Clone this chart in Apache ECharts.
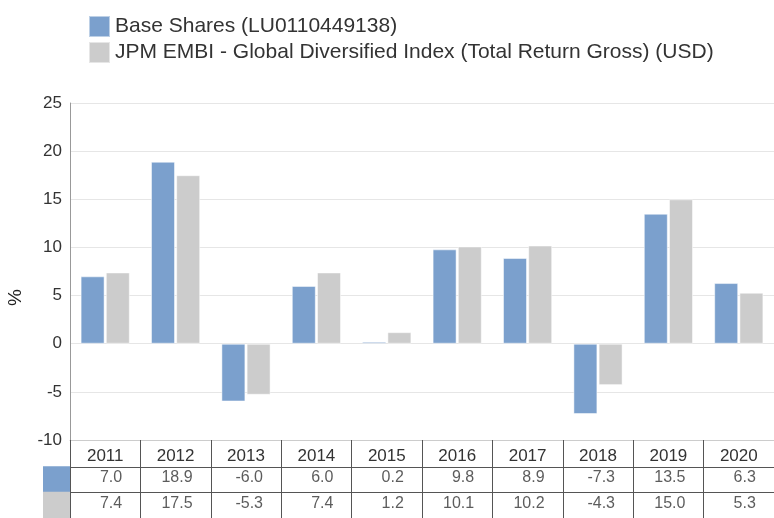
<!DOCTYPE html>
<html>
<head>
<meta charset="utf-8">
<script src="https://cdn.jsdelivr.net/npm/echarts@6/dist/echarts.min.js"></script>
<style>
  html, body { margin: 0; padding: 0; background: #fff; }
  #chart { width: 774px; height: 518px; }
</style>
</head>
<body>
<div id="chart"></div>
<script>
const years = ['2011', '2012', '2013', '2014', '2015', '2016', '2017', '2018', '2019', '2020'];
const baseShares = [7.0, 18.9, -6.0, 6.0, 0.2, 9.8, 8.9, -7.3, 13.5, 6.3];
const benchmark = [7.4, 17.5, -5.3, 7.4, 1.2, 10.1, 10.2, -4.3, 15.0, 5.3];
const seriesNames = ['Base Shares (LU0110449138)', 'JPM EMBI - Global Diversified Index (Total Return Gross) (USD)'];
const seriesColors = ['#7ba0cd', '#cccccc'];
const yTicks = { min: -10, max: 25, interval: 5 };

const font = 'Liberation Sans, Arial, sans-serif';

// table cells: [column, row, value]
function tableCells(values, row) {
    return values.map((v, i) => [i, row, v]);
}

const chart = echarts.init(document.getElementById('chart'));

const option = {
    animation: false,
    textStyle: { fontFamily: font },
    legend: {
        orient: 'vertical',
        left: 83,
        top: 10,
        itemWidth: 21,
        itemHeight: 21,
        itemGap: 3,
        icon: 'rect',
        data: seriesNames,
        textStyle: { fontSize: 21, color: '#333', fontFamily: font }
    },
    grid: [
        { left: 70, right: 0, top: 103, bottom: 78 },
        { left: 70, right: 0, top: 467, height: 56 }
    ],
    xAxis: [
        {
            type: 'category',
            gridIndex: 0,
            data: years,
            axisLine: { onZero: false, lineStyle: { color: '#cccccc' } },
            axisTick: { show: true, interval: 0, length: 27, lineStyle: { color: '#555' } },
            axisLabel: { fontSize: 17, color: '#333', margin: 8, interval: 0 },
            splitLine: { show: false }
        },
        {
            type: 'category',
            gridIndex: 1,
            data: years,
            axisLine: { show: false },
            axisTick: { show: false },
            axisLabel: { show: false },
            splitLine: { show: true, interval: 0, lineStyle: { color: '#555' } }
        }
    ],
    yAxis: [
        {
            type: 'value',
            gridIndex: 0,
            min: yTicks.min,
            max: yTicks.max,
            interval: yTicks.interval,
            axisLine: { show: true, lineStyle: { color: '#999' } },
            axisTick: { show: false },
            axisLabel: { fontSize: 17, color: '#333', margin: 8 },
            splitLine: { lineStyle: { color: '#e6e6e6' } }
        },
        {
            type: 'category',
            gridIndex: 1,
            inverse: true,
            data: ['s0', 's1'],
            axisLine: { show: true, lineStyle: { color: '#555' } },
            axisTick: { show: false },
            splitLine: { show: true, interval: 0, lineStyle: { color: '#555' } },
            axisLabel: {
                margin: 0,
                interval: 0,
                formatter: v => (v === 's0' ? '{a|}' : '{b|}'),
                rich: {
                    a: { backgroundColor: seriesColors[0], width: 27, height: 27 },
                    b: { backgroundColor: seriesColors[1], width: 27, height: 27 }
                }
            }
        }
    ],
    graphic: [
        {
            type: 'text',
            left: 6,
            top: 289,
            rotation: Math.PI / 2,
            style: { text: '%', fontSize: 19, fill: '#222', fontFamily: font }
        }
    ],
    series: [
        {
            name: seriesNames[0],
            type: 'bar',
            xAxisIndex: 0,
            yAxisIndex: 0,
            data: baseShares,
            barWidth: 24,
            barGap: '5%',
            itemStyle: { color: seriesColors[0], borderColor: 'rgba(255,255,255,0.5)', borderWidth: 1 }
        },
        {
            name: seriesNames[1],
            type: 'bar',
            xAxisIndex: 0,
            yAxisIndex: 0,
            data: benchmark,
            barWidth: 24,
            itemStyle: { color: seriesColors[1], borderColor: 'rgba(255,255,255,0.5)', borderWidth: 1 }
        },
        {
            type: 'scatter',
            xAxisIndex: 1,
            yAxisIndex: 1,
            symbolSize: 0,
            silent: true,
            data: tableCells(baseShares, 0).concat(tableCells(benchmark, 1)),
            label: {
                show: true,
                position: 'inside',
                align: 'right',
                offset: [17, -2],
                fontSize: 16,
                color: '#333',
                formatter: p => p.value[2].toFixed(1)
            }
        }
    ]
};

chart.setOption(option);
</script>
</body>
</html>
